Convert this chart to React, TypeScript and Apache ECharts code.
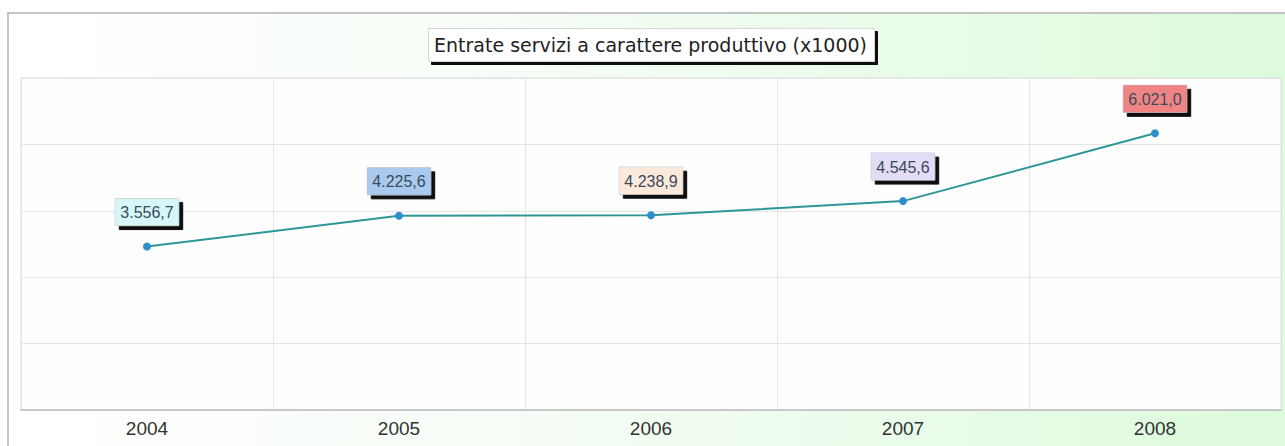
import React, { useEffect, useRef } from "react";
import * as echarts from "echarts";

const categories = ["2004", "2005", "2006", "2007", "2008"];
const values = [3556.7, 4225.6, 4238.9, 4545.6, 6021.0];
const labelColors = ["#d6f7f7", "#a9c9ef", "#fbe9dc", "#e3dcf7", "#f08484"];
const titleText = "Entrate servizi a carattere produttivo (x1000)";

const fmt = (v: number) => {
  const [i, d] = v.toFixed(1).split(".");
  return i.replace(/\B(?=(\d{3})+(?!\d))/g, ".") + "," + d;
};

export default function App() {
  const ref = useRef<HTMLDivElement>(null);
  useEffect(() => {
    if (!ref.current) return;
    const chart = echarts.init(ref.current, null, { renderer: "svg" });
    const maxV = 7225;
    chart.setOption({
      animation: false,
      backgroundColor: "#ffffff",
      graphic: [
        {
          type: "rect",
          z: -10,
          shape: { x: 8, y: 13, width: 1290, height: 440 },
          style: {
            fill: new echarts.graphic.LinearGradient(0, 0, 1, 0, [
              { offset: 0, color: "#ffffff" },
              { offset: 0.4, color: "#f6fdf6" },
              { offset: 1, color: "#dcfadc" },
            ]),
            stroke: "#c4c4c4",
            lineWidth: 2,
          },
        },
      ],
      title: {
        text: titleText,
        left: 428,
        top: 28,
        backgroundColor: "#ffffff",
        borderColor: "#d8d8d8",
        borderWidth: 1,
        padding: [7, 8, 8, 6],
        shadowColor: "#111",
        shadowOffsetX: 3,
        shadowOffsetY: 3,
        shadowBlur: 0,
        textStyle: {
          fontFamily: "DejaVu Sans, sans-serif",
          fontSize: 19,
          fontWeight: "normal",
          color: "#222",
        },
      },
      grid: {
        left: 21,
        right: 4,
        top: 78,
        bottom: 36,
        show: true,
        backgroundColor: "#fefefe",
        borderColor: "#dddddd",
        borderWidth: 1,
      },
      xAxis: {
        type: "category",
        data: categories,
        boundaryGap: true,
        axisLine: { lineStyle: { color: "#c8c8c8", width: 2 } },
        axisTick: { show: false },
        splitLine: { show: true, lineStyle: { color: "#e4e4e4" } },
        axisLabel: {
          fontFamily: "Liberation Sans, Arial, sans-serif",
          fontSize: 19,
          color: "#333",
          margin: 9,
        },
      },
      yAxis: {
        type: "value",
        min: 0,
        max: maxV,
        interval: maxV / 5,
        axisLabel: { show: false },
        axisLine: { show: false },
        axisTick: { show: false },
        splitLine: { lineStyle: { color: "#e4e4e4" } },
      },
      series: [
        {
          type: "line",
          data: values.map((v, i) => ({
            value: v,
            label: { backgroundColor: labelColors[i] },
          })),
          symbol: "circle",
          symbolSize: 8,
          itemStyle: { color: "#2a8fca" },
          lineStyle: { color: "#2e9696", width: 2 },
          label: {
            show: true,
            position: "top",
            distance: 17,
            formatter: (p: any) => fmt(p.value),
            fontFamily: "Liberation Sans, Arial, sans-serif",
            fontSize: 16,
            color: "#3a4a5a",
            padding: [6, 5, 5, 5],
            borderColor: "#bbb",
            borderWidth: 0.5,
            shadowColor: "#111",
            shadowOffsetX: 4,
            shadowOffsetY: 4,
            shadowBlur: 0,
          },
        },
      ],
    });
    return () => chart.dispose();
  }, []);
  return (
    <div
      ref={ref}
      style={{ position: "fixed", left: 0, top: 0, width: 1285, height: 446 }}
    />
  );
}
